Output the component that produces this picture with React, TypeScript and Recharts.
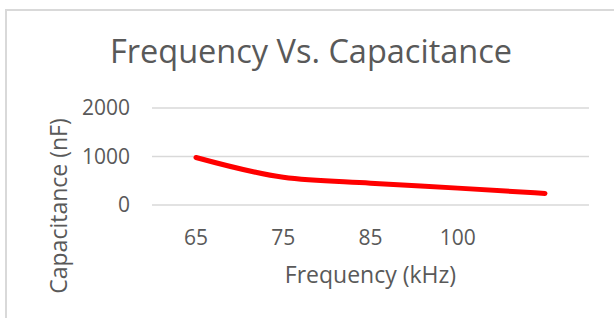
import { LineChart, Line, XAxis, YAxis, CartesianGrid } from "recharts";

const frequencies = ["65", "75", "85", "100", ""];
const capacitance = [980, 572, 450, 348, 238];
const yTicks = [0, 1000, 2000];

const data = frequencies.map((f, i) => ({ freq: f, cap: capacitance[i] }));

const FONT = "'Open Sans', sans-serif";
const GREY = "#595959";

function YTitle({ viewBox }: any) {
  const cx = viewBox.x + 58;
  const cy = viewBox.y + 98;
  return (
    <text
      x={cx}
      y={cy}
      transform={`rotate(-90, ${cx}, ${cy})`}
      textAnchor="middle"
      dominantBaseline="central"
      fill={GREY}
      fontFamily={FONT}
      fontSize={23}
    >
      Capacitance (nF)
    </text>
  );
}

function XTitle({ viewBox }: any) {
  return (
    <text
      x={viewBox.x + viewBox.width / 2}
      y={viewBox.y + 78}
      textAnchor="middle"
      fill={GREY}
      fontFamily={FONT}
      fontSize={23}
    >
      Frequency (kHz)
    </text>
  );
}

export default function App() {
  return (
    <div style={{ position: "absolute", left: 0, top: 0, width: 614, height: 318, background: "#fff", overflow: "hidden" }}>
      {/* chart frame, only top and left edges are visible in the crop */}
      <div
        style={{
          position: "absolute",
          left: 5,
          top: 9,
          width: 640,
          height: 340,
          borderTop: "2px solid #d9d9d9",
          borderLeft: "2px solid #d9d9d9",
        }}
      />
      <svg style={{ position: "absolute", left: 0, top: 0 }} width={614} height={90}>
        <text x={311} y={63} textAnchor="middle" fill={GREY} fontFamily={FONT} fontSize={32.5}>
          Frequency Vs. Capacitance
        </text>
      </svg>
      <div style={{ position: "absolute", left: 0, top: 0 }}>
        <LineChart width={614} height={318} data={data} margin={{ top: 108, right: 25, bottom: 33, left: 0 }}>
          <CartesianGrid vertical={false} stroke="#d9d9d9" strokeWidth={1.5} />
          <XAxis
            dataKey="freq"
            height={80}
            axisLine={false}
            tickLine={false}
            tickSize={0}
            tickMargin={25}
            padding={{ left: 44, right: 44 }}
            tick={{ fill: GREY, fontFamily: FONT, fontSize: 21 }}
            interval={0}
            label={<XTitle />}
          />
          <YAxis
            width={152}
            domain={[0, 2000]}
            ticks={yTicks}
            axisLine={false}
            tickLine={false}
            tickSize={0}
            tickMargin={22}
            tick={{ fill: GREY, fontFamily: FONT, fontSize: 21 }}
            label={<YTitle />}
          />
          <Line
            type="monotone"
            dataKey="cap"
            stroke="#ff0000"
            strokeWidth={5}
            strokeLinecap="round"
            dot={false}
            isAnimationActive={false}
          />
        </LineChart>
      </div>
    </div>
  );
}
